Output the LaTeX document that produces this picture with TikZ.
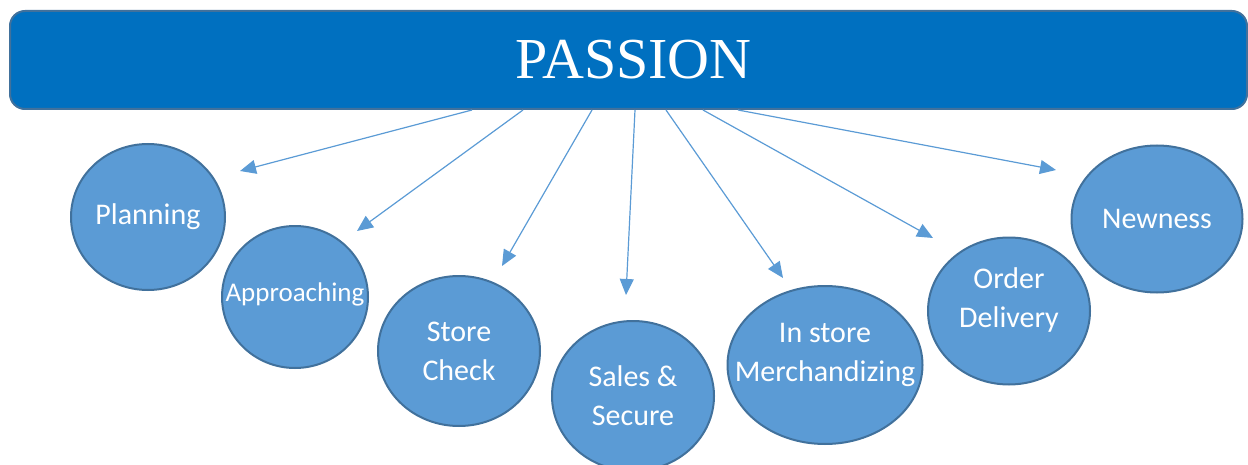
\documentclass[tikz,border=0pt]{standalone}
\usepackage{fontspec}
\setmainfont{Carlito}
\newfontfamily\titlefont{Liberation Serif}
\usetikzlibrary{shapes.geometric}
\usetikzlibrary{arrows.meta}
\tikzset{>={Triangle[width=7pt,length=8pt]}}
\definecolor{bannerblue}{HTML}{0070C0}
\definecolor{edgeblue}{HTML}{41719C}
\definecolor{bubbleblue}{HTML}{5B9BD5}
\tikzset{
	bubble/.style={ellipse, draw=edgeblue, line width=1pt, fill=bubbleblue, text=white, inner sep=0pt, align=center, font=\fontsize{15}{19.5}\selectfont},
	bubbletext/.style={text=white, align=center, inner sep=0pt, font=\fontsize{15}{19.5}\selectfont},
}

\begin{document}
\begin{tikzpicture}[x=0.5pt,y=-0.5pt]
	\useasboundingbox (0,0) rectangle (1248,465);
	\node (PASSION) [draw=edgeblue, line width=1pt, fill=bannerblue, rounded corners=7.5pt, minimum width=618.5pt, minimum height=49pt, text=white, font=\titlefont\fontsize{29}{29}\selectfont] at (628.5,60) {\hspace{5pt}PASSION};
	\node (PLAN) [bubble, minimum width=77pt, minimum height=73pt] at (148,217) {Planning};
	\node (APPR) [bubble, minimum width=73pt, minimum height=71pt, label={[bubbletext, yshift=1.5pt, font=\fontsize{13.5}{17}\selectfont]center:Approaching}] at (295,297) {};
	\node (STORE) [bubble, minimum width=81pt, minimum height=75pt] at (459,351) {Store\\Check};
	\node (SALES) [bubble, minimum width=81pt, minimum height=75pt] at (633,396) {Sales \&\\Secure};
	\node (MERCH) [bubble, minimum width=97.5pt, minimum height=79pt, label={[bubbletext, yshift=5pt]center:In store\\Merchandizing}] at (825,365) {};
	\node (ORDER) [bubble, minimum width=81pt, minimum height=73.5pt, label={[bubbletext, yshift=5.5pt]center:Order\\Delivery}] at (1009,311) {};
	\node (NEW) [bubble, minimum width=85.5pt, minimum height=73.5pt] at (1157,219) {Newness};
	
	\coordinate (tPLAN) at (240,171);
	\coordinate (tAPPR) at (357,231);
	\coordinate (tSTORE) at (502,266);
	\coordinate (tSALES) at (626,295);
	\coordinate (tMERCH) at (783,278);
	\coordinate (tORDER) at (933,238);
	\coordinate (tNEW) at (1056,170);
	
	\path [draw=bubbleblue, line width=0.6pt, ->] (PASSION.south -| 472,0) -- (tPLAN);
	\path [draw=bubbleblue, line width=0.6pt, ->] (PASSION.south -| 523,0) -- (tAPPR);
	\path [draw=bubbleblue, line width=0.6pt, ->] (PASSION.south -| 592,0) -- (tSTORE);
	\path [draw=bubbleblue, line width=0.6pt, ->] (PASSION.south -| 635,0) -- (tSALES);
	\path [draw=bubbleblue, line width=0.6pt, ->] (PASSION.south -| 666,0) -- (tMERCH);
	\path [draw=bubbleblue, line width=0.6pt, ->] (PASSION.south -| 703,0) -- (tORDER);
	\path [draw=bubbleblue, line width=0.6pt, ->] (PASSION.south -| 738,0) -- (tNEW);
\end{tikzpicture}
\end{document}
